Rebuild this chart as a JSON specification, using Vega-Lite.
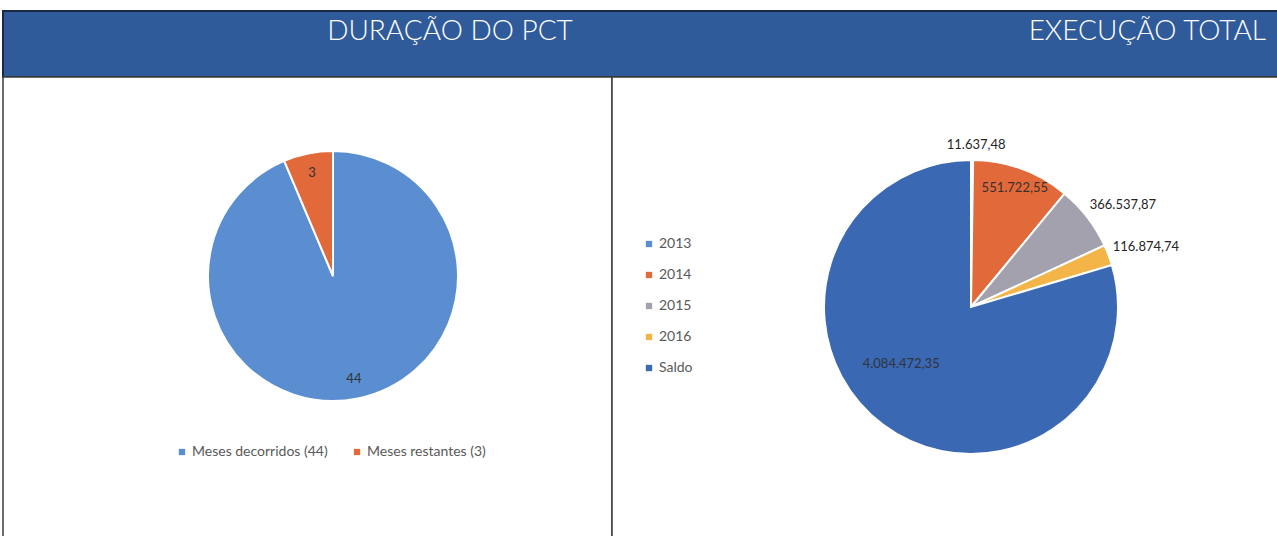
{
  "$schema": "https://vega.github.io/schema/vega-lite/v6.json",
  "padding": {"left": 2, "top": 10, "right": 0, "bottom": 0},
  "background": "white",
  "spacing": 0,
  "bounds": "flush",
  "config": {
    "font": "Lato",
    "view": {"stroke": null},
    "locale": {"number": {"decimal": ",", "thousands": ".", "grouping": [3], "currency": ["R$", ""]}},
    "legend": {"symbolType": "square", "symbolSize": 40, "symbolStrokeWidth": 0, "labelFont": "Lato", "labelFontSize": 13, "labelColor": "#595959", "labelOffset": 3}
  },
  "vconcat": [
    {
      "width": 1275,
      "height": 66,
      "view": {"fill": "#2F5B9A", "stroke": "#1B2A44", "strokeWidth": 2},
      "data": {"values": [{"left": "DURAÇÃO DO PCT", "right": "EXECUÇÃO TOTAL"}]},
      "layer": [
        {
          "mark": {"type": "text", "x": 447, "y": 21, "align": "center", "baseline": "middle", "font": "Lato", "fontSize": 28, "fontWeight": 300, "color": "white"},
          "encoding": {"text": {"field": "left", "type": "nominal"}}
        },
        {
          "mark": {"type": "text", "x": 1263, "y": 21, "align": "right", "baseline": "middle", "font": "Lato", "fontSize": 28, "fontWeight": 300, "color": "white"},
          "encoding": {"text": {"field": "right", "type": "nominal"}}
        }
      ]
    },
    {
      "hconcat": [
        {
          "width": 609,
          "height": 460,
          "view": {"stroke": "#3c3c3c", "strokeWidth": 1.5, "fill": "white"},
          "data": {"values": [
            {"cat": "Meses decorridos (44)", "v": 44},
            {"cat": "Meses restantes (3)", "v": 3}
          ]},
          "encoding": {
            "theta": {"field": "v", "type": "quantitative", "stack": true},
            "order": {"field": "cat", "type": "ordinal"}
          },
          "layer": [
            {
              "mark": {"type": "arc", "radius": 125, "stroke": "white", "strokeWidth": 2, "x": 330, "y": 199},
              "encoding": {
                "color": {"field": "cat", "type": "nominal",
                  "scale": {"domain": ["Meses decorridos (44)", "Meses restantes (3)"], "range": ["#5A8ED0", "#E2693A"]},
                  "legend": {"orient": "none", "direction": "horizontal", "legendX": 172, "legendY": 368, "title": null, "columnPadding": 22, "labelFontSize": 14}}
              }
            },
            {
              "mark": {"type": "text", "radius": 105, "x": 330, "y": 199, "fontSize": 13, "color": "#333333", "align": "center", "baseline": "middle"},
              "encoding": {"text": {"field": "v", "type": "quantitative"}, "detail": {"field": "cat", "type": "nominal"}}
            }
          ]
        },
        {
          "width": 666,
          "height": 460,
          "view": {"stroke": "#3c3c3c", "strokeWidth": 1.5, "fill": "white"},
          "data": {"values": [
            {"cat": "2013", "v": 11637.48},
            {"cat": "2014", "v": 551722.55},
            {"cat": "2015", "v": 366537.87},
            {"cat": "2016", "v": 116874.74},
            {"cat": "Saldo", "v": 4084472.35}
          ]},
          "encoding": {
            "theta": {"field": "v", "type": "quantitative", "stack": true},
            "order": {"field": "cat", "type": "ordinal"}
          },
          "layer": [
            {
              "mark": {"type": "arc", "radius": 147, "stroke": "white", "strokeWidth": 2, "x": 359, "y": 230},
              "encoding": {
                "color": {"field": "cat", "type": "nominal",
                  "scale": {"domain": ["2013", "2014", "2015", "2016", "Saldo"], "range": ["#5A8ED0", "#E2693A", "#A3A1AD", "#F4B548", "#3B68B2"]},
                  "legend": {"orient": "none", "direction": "vertical", "legendX": 30, "legendY": 160, "title": null, "rowPadding": 17, "labelFontSize": 14}}
              }
            },
            {
              "mark": {"type": "text", "radius": 127, "x": 359, "y": 230, "fontSize": 13, "color": "#3a3030", "align": "center", "baseline": "middle"},
              "encoding": {
                "text": {"condition": {"test": "datum.cat === '2014'", "field": "v", "type": "quantitative", "format": ",.2f"}, "value": ""},
                "detail": {"field": "cat", "type": "nominal"}
              }
            },
            {
              "mark": {"type": "text", "radius": 90, "dx": -16, "dy": -15, "x": 359, "y": 230, "fontSize": 13, "color": "#2f3440", "align": "center", "baseline": "middle"},
              "encoding": {
                "text": {"condition": {"test": "datum.cat === 'Saldo'", "field": "v", "type": "quantitative", "format": ",.2f"}, "value": ""},
                "detail": {"field": "cat", "type": "nominal"}
              }
            },
            {
              "mark": {"type": "text", "radius": 162, "dx": 4, "x": 359, "y": 230, "fontSize": 13, "color": "#262626", "align": "center", "baseline": "middle"},
              "encoding": {
                "text": {"condition": {"test": "datum.cat === '2013'", "field": "v", "type": "quantitative", "format": ",.2f"}, "value": ""},
                "detail": {"field": "cat", "type": "nominal"}
              }
            },
            {
              "mark": {"type": "text", "radius": 160, "dx": -8, "dy": -4, "x": 359, "y": 230, "fontSize": 13, "color": "#262626", "align": "left", "baseline": "middle"},
              "encoding": {
                "text": {"condition": {"test": "datum.cat === '2015' || datum.cat === '2016'", "field": "v", "type": "quantitative", "format": ",.2f"}, "value": ""},
                "detail": {"field": "cat", "type": "nominal"}
              }
            }
          ]
        }
      ],
      "resolve": {"scale": {"color": "independent", "theta": "independent"}, "legend": {"color": "independent"}},
      "spacing": 0,
      "bounds": "flush"
    }
  ]
}
